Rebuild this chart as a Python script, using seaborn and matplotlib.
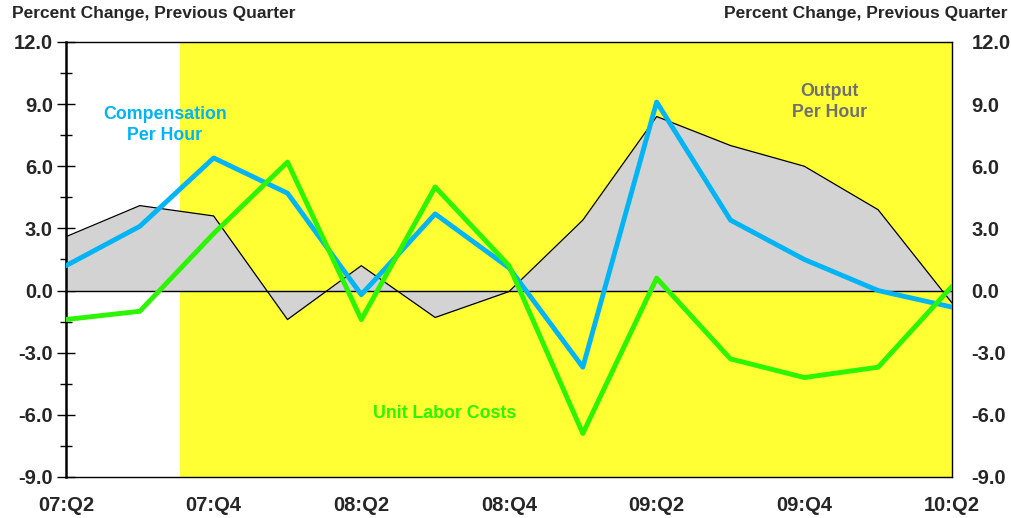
import matplotlib
matplotlib.use("Agg")
import matplotlib.pyplot as plt
import seaborn as sns
import pandas as pd
import numpy as np

# Quarterly productivity and costs, percent change from previous quarter
quarters = ["07:Q2", "07:Q3", "07:Q4", "08:Q1", "08:Q2", "08:Q3", "08:Q4",
            "09:Q1", "09:Q2", "09:Q3", "09:Q4", "10:Q1", "10:Q2"]
output_per_hour = [2.6, 4.1, 3.6, -1.4, 1.2, -1.3, -0.05, 3.4, 8.4, 7.0, 6.0, 3.9, -0.6]
compensation_per_hour = [1.2, 3.1, 6.4, 4.7, -0.2, 3.7, 1.1, -3.7, 9.1, 3.4, 1.5, 0.0, -0.8]
unit_labor_costs = [-1.4, -1.0, 2.75, 6.2, -1.4, 5.0, 1.2, -6.9, 0.6, -3.3, -4.2, -3.7, 0.2]
recession_start = 1.55  # December 2007, in quarters after 07:Q2

yticks = [-9.0, -6.0, -3.0, 0.0, 3.0, 6.0, 9.0, 12.0]

df = pd.DataFrame({
    "q": np.arange(len(quarters)),
    "Output Per Hour": output_per_hour,
    "Compensation Per Hour": compensation_per_hour,
    "Unit Labor Costs": unit_labor_costs,
})

sns.set_style("white")
plt.rcParams["font.family"] = ["Liberation Sans", "DejaVu Sans"]
plt.rcParams["font.weight"] = "bold"

BLUE = "#00B4F5"
GREEN = "#2BF500"
YELLOW = "#FFFF33"
GRAY = "#D3D3D3"
TICK_FS = 14.5

fig = plt.figure(figsize=(10.12, 5.18), dpi=100)
ax = fig.add_axes([0.0652, 0.0792, 0.8755, 0.8398])

x_end = len(quarters) - 1
ax.axvspan(recession_start, x_end, color=YELLOW, zorder=0, lw=0)

ax.fill_between(df["q"], df["Output Per Hour"], 0, color=GRAY, zorder=1, lw=0)
sns.lineplot(data=df, x="q", y="Output Per Hour", ax=ax, color="black", lw=0.9, zorder=2)
ax.axhline(0, color="black", lw=1.0, zorder=2)

sns.lineplot(data=df, x="q", y="Compensation Per Hour", ax=ax, color=BLUE, lw=3.5, zorder=3)
sns.lineplot(data=df, x="q", y="Unit Labor Costs", ax=ax, color=GREEN, lw=3.5, zorder=4)

ax.set_xlim(0, x_end)
ax.set_ylim(-9, 12)
ax.set_xlabel("")
ax.set_ylabel("")

ax.set_xticks(df["q"])
ax.set_xticklabels([q if i % 2 == 0 else "" for i, q in enumerate(quarters)])
ax.set_yticks(yticks)
ax.set_yticklabels([f"{v:.1f}" for v in yticks])
ax.set_yticks(np.arange(-7.5, 12, 3.0), minor=True)

ax.tick_params(axis="x", direction="inout", length=11, width=1, color="black",
               labelsize=TICK_FS, pad=8)
ax.tick_params(axis="y", which="major", direction="inout", length=13, width=1,
               color="black", labelsize=TICK_FS, pad=3)
ax.tick_params(axis="y", which="minor", direction="inout", length=9, width=1,
               color="black", left=True)
for lbl in ax.get_xticklabels() + ax.get_yticklabels():
    lbl.set_fontweight("bold")

for side in ["top", "right", "bottom"]:
    ax.spines[side].set_visible(True)
    ax.spines[side].set_color("black")
    ax.spines[side].set_linewidth(1.0)
ax.spines["left"].set_visible(True)
ax.spines["left"].set_color("black")
ax.spines["left"].set_linewidth(1.8)

ax2 = ax.twinx()
ax2.set_ylim(ax.get_ylim())
ax2.set_yticks(yticks)
ax2.set_yticklabels([f"{v:.1f}" for v in yticks])
ax2.tick_params(axis="y", length=0, labelsize=TICK_FS, pad=14)
for lbl in ax2.get_yticklabels():
    lbl.set_fontweight("bold")
for s in ax2.spines.values():
    s.set_visible(False)

fig.text(0.012, 0.988, "Percent Change, Previous Quarter", ha="left", va="top",
         fontsize=12.5, fontweight="bold")
fig.text(0.996, 0.988, "Percent Change, Previous Quarter", ha="right", va="top",
         fontsize=12.5, fontweight="bold")

ax.text(1.34, 8.0, "Compensation\nPer Hour", color=BLUE, fontsize=12.8,
        fontweight="bold", ha="center", va="center", linespacing=1.3)
ax.text(10.34, 9.1, "Output\nPer Hour", color="#707070", fontsize=12.8,
        fontweight="bold", ha="center", va="center", linespacing=1.3)
ax.text(5.13, -5.95, "Unit Labor Costs", color=GREEN, fontsize=12.8,
        fontweight="bold", ha="center", va="center")

fig.savefig("out.png", dpi=100)
